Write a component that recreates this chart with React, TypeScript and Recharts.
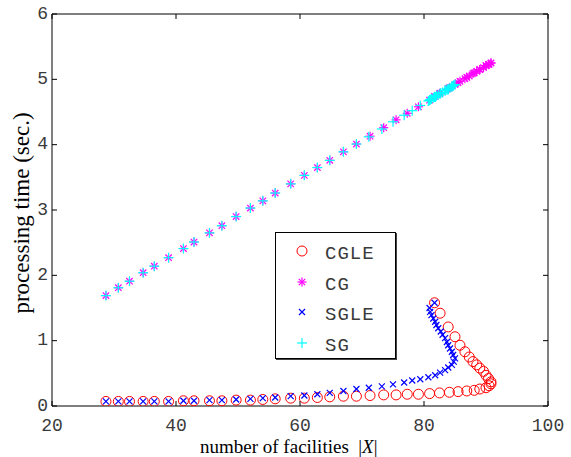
import React from 'react';
import { ScatterChart, Scatter, XAxis, YAxis } from 'recharts';

const xTicks = [20, 40, 60, 80, 100];
const yTicks = [0, 1, 2, 3, 4, 5, 6];

// CGLE / CG share the same |X| values
const cgleX = [
  28.7, 30.7, 32.5, 34.7, 36.5, 38.8, 41.2, 42.9, 45.4, 47.4, 49.7, 52.0, 54.0, 56.0, 58.5, 60.7, 62.8, 64.8, 67.0, 69.1,
  71.3, 73.5, 75.5, 77.3, 79.1, 80.9, 82.5, 84.1, 85.5, 86.9, 88.1, 89.0, 90.0, 90.5, 90.8,
  90.8, 90.4, 90.0, 89.6, 89.0, 88.5, 87.9, 87.3, 86.6, 85.8, 85.0, 83.9, 82.6, 81.7,
];
const cgleY = [
  0.07, 0.07, 0.07, 0.07, 0.07, 0.07, 0.08, 0.08, 0.08, 0.08, 0.09, 0.09, 0.10, 0.11, 0.12, 0.12, 0.13, 0.14, 0.15, 0.15,
  0.16, 0.17, 0.17, 0.18, 0.18, 0.19, 0.20, 0.21, 0.22, 0.23, 0.24, 0.26, 0.28, 0.31, 0.34,
  0.37, 0.42, 0.47, 0.53, 0.58, 0.63, 0.68, 0.75, 0.83, 0.93, 1.06, 1.21, 1.42, 1.58,
];
const cgY = [
  1.69, 1.81, 1.91, 2.04, 2.14, 2.27, 2.41, 2.51, 2.65, 2.76, 2.90, 3.03, 3.14, 3.26, 3.40, 3.53, 3.65, 3.76, 3.89, 4.01,
  4.13, 4.26, 4.38, 4.48, 4.58, 4.68, 4.78, 4.87, 4.95, 5.03, 5.10, 5.15, 5.21, 5.23, 5.25,
  5.25, 5.23, 5.21, 5.18, 5.15, 5.12, 5.09, 5.05, 5.01, 4.97, 4.92, 4.86, 4.79, 4.74,
];

// SGLE / SG share the same |X| values
const sgleX = [
  28.7, 30.7, 32.5, 34.7, 36.5, 38.8, 41.2, 42.9, 45.4, 47.4, 49.7, 52.0, 54.0, 56.0, 58.5, 60.7, 62.8, 64.8, 67.0, 69.1,
  71.1, 73.2, 75.0, 76.8, 78.1, 79.4, 80.7, 81.8, 82.6, 83.4, 83.9, 84.5, 84.8, 85.0,
  84.7, 84.5, 84.2, 83.9, 83.7, 83.4, 83.0, 82.7, 82.3, 82.0, 81.8, 81.5, 81.2, 81.0, 80.9, 81.7,
];
const sgleY = [
  0.07, 0.07, 0.07, 0.07, 0.07, 0.07, 0.08, 0.08, 0.09, 0.09, 0.10, 0.11, 0.12, 0.13, 0.15, 0.16, 0.18, 0.20, 0.23, 0.26,
  0.28, 0.30, 0.33, 0.36, 0.39, 0.41, 0.44, 0.47, 0.51, 0.55, 0.59, 0.63, 0.68, 0.73,
  0.78, 0.83, 0.88, 0.93, 0.98, 1.04, 1.09, 1.14, 1.19, 1.24, 1.29, 1.34, 1.39, 1.44, 1.50, 1.58,
];
const sgY = [
  1.69, 1.81, 1.91, 2.04, 2.14, 2.27, 2.41, 2.51, 2.65, 2.76, 2.90, 3.03, 3.14, 3.26, 3.40, 3.53, 3.65, 3.76, 3.89, 4.01,
  4.12, 4.24, 4.35, 4.45, 4.52, 4.60, 4.67, 4.73, 4.78, 4.83, 4.85, 4.89, 4.91, 4.92,
  4.90, 4.89, 4.87, 4.85, 4.84, 4.83, 4.80, 4.79, 4.76, 4.75, 4.73, 4.72, 4.70, 4.69, 4.68, 4.73,
];

const pts = (xs: number[], ys: number[]) => xs.map((x, i) => ({ x, y: ys[i] }));

const RED = '#ff0000';
const MAGENTA = '#ff00ff';
const BLUE = '#0000ff';
const CYAN = '#00ffff';

const TICK_FONT = '"Liberation Mono", "DejaVu Sans Mono", monospace';
const SERIF = '"Liberation Serif", "Times New Roman", serif';

const CircleMark = ({ cx, cy }: any) => (
  <circle cx={cx} cy={cy} r={5} fill="none" stroke={RED} strokeWidth={1} />
);
const StarMark = ({ cx, cy }: any) => (
  <g stroke={MAGENTA} strokeWidth={1.2}>
    <line x1={cx - 4.5} y1={cy} x2={cx + 4.5} y2={cy} />
    <line x1={cx} y1={cy - 4.5} x2={cx} y2={cy + 4.5} />
    <line x1={cx - 3.2} y1={cy - 3.2} x2={cx + 3.2} y2={cy + 3.2} />
    <line x1={cx - 3.2} y1={cy + 3.2} x2={cx + 3.2} y2={cy - 3.2} />
  </g>
);
const CrossMark = ({ cx, cy }: any) => (
  <g stroke={BLUE} strokeWidth={1.2}>
    <line x1={cx - 3} y1={cy - 3} x2={cx + 3} y2={cy + 3} />
    <line x1={cx - 3} y1={cy + 3} x2={cx + 3} y2={cy - 3} />
  </g>
);
const PlusMark = ({ cx, cy }: any) => (
  <g stroke={CYAN} strokeWidth={1.2}>
    <line x1={cx - 5} y1={cy} x2={cx + 5} y2={cy} />
    <line x1={cx} y1={cy - 5} x2={cx} y2={cy + 5} />
  </g>
);

// ticks point inward, MATLAB style
const BottomTick = ({ x, y, payload }: any) => (
  <g>
    <line x1={x} y1={y} x2={x} y2={y - 5} stroke="#000" />
    <text x={x} y={y + 20} textAnchor="middle" dominantBaseline="middle" fontFamily={TICK_FONT} fontSize={18} fill="#3a3a3a">
      {payload.value}
    </text>
  </g>
);
const TopTick = ({ x, y }: any) => <line x1={x} y1={y} x2={x} y2={y + 5} stroke="#000" />;
const LeftTick = ({ x, y, payload }: any) => (
  <g>
    <line x1={x} y1={y} x2={x + 5} y2={y} stroke="#000" />
    <text x={x - 4} y={y} textAnchor="end" dominantBaseline="middle" fontFamily={TICK_FONT} fontSize={18} fill="#3a3a3a">
      {payload.value}
    </text>
  </g>
);
const RightTick = ({ x, y }: any) => <line x1={x} y1={y} x2={x - 5} y2={y} stroke="#000" />;

const legendItems = [
  { name: 'CGLE', Mark: CircleMark },
  { name: 'CG', Mark: StarMark },
  { name: 'SGLE', Mark: CrossMark },
  { name: 'SG', Mark: PlusMark },
];

function LegendBox() {
  return (
    <div
      style={{
        position: 'absolute',
        left: 275,
        top: 232,
        width: 119,
        height: 125,
        border: '1px solid #000',
        boxShadow: '1px 1px 0 #444',
        background: '#fff',
      }}
    >
      {legendItems.map((it, i) => (
        <div key={it.name} style={{ position: 'absolute', left: 0, top: 6 + i * 30.5, height: 26, width: 119 }}>
          <svg width={40} height={26} style={{ position: 'absolute', left: 6, top: 0 }}>
            <it.Mark cx={20} cy={12} />
          </svg>
          <span
            style={{
              position: 'absolute',
              left: 49,
              top: 2,
              fontFamily: TICK_FONT,
              fontSize: 19,
              letterSpacing: 1,
              color: '#3a3a3a',
              lineHeight: '26px',
            }}
          >
            {it.name}
          </span>
        </div>
      ))}
    </div>
  );
}

const axisCommon = { type: 'number' as const, tickSize: 0, tickMargin: 0, tickLine: false, axisLine: { stroke: '#000' }, allowDataOverflow: true };

export default function App() {
  return (
    <div style={{ position: 'absolute', left: 0, top: 0, width: 571, height: 457, background: '#fff' }}>
      <ScatterChart width={571} height={457} margin={{ top: 13, right: 22, bottom: 50, left: 51 }}>
        <XAxis xAxisId="b" dataKey="x" orientation="bottom" domain={[20, 100]} ticks={xTicks} height={1} tick={BottomTick} {...axisCommon} />
        <XAxis xAxisId="t" dataKey="x" orientation="top" domain={[20, 100]} ticks={xTicks} height={1} tick={TopTick} {...axisCommon} />
        <YAxis yAxisId="l" dataKey="y" orientation="left" domain={[0, 6]} ticks={yTicks} width={1} tick={LeftTick} {...axisCommon} />
        <YAxis yAxisId="r" dataKey="y" orientation="right" domain={[0, 6]} ticks={yTicks} width={1} tick={RightTick} {...axisCommon} />
        <Scatter name="CGLE" xAxisId="b" yAxisId="l" data={pts(cgleX, cgleY)} shape={CircleMark} isAnimationActive={false} />
        <Scatter name="CG" xAxisId="b" yAxisId="l" data={pts(cgleX, cgY)} shape={StarMark} isAnimationActive={false} />
        <Scatter name="SGLE" xAxisId="b" yAxisId="l" data={pts(sgleX, sgleY)} shape={CrossMark} isAnimationActive={false} />
        <Scatter name="SG" xAxisId="b" yAxisId="l" data={pts(sgleX, sgY)} shape={PlusMark} isAnimationActive={false} />
      </ScatterChart>
      <LegendBox />
      <div
        style={{
          position: 'absolute',
          left: 200,
          top: 436,
          fontFamily: SERIF,
          fontSize: 19,
          whiteSpace: 'pre',
          color: '#000',
          lineHeight: '22px',
        }}
      >
        number of facilities  |<i>X</i>|
      </div>
      <div
        style={{
          position: 'absolute',
          left: 22,
          top: 213,
          transform: 'translate(-50%, -50%) rotate(-90deg)',
          fontFamily: SERIF,
          fontSize: 23,
          whiteSpace: 'pre',
          color: '#000',
          lineHeight: '24px',
        }}
      >
        processing time (sec.)
      </div>
    </div>
  );
}
